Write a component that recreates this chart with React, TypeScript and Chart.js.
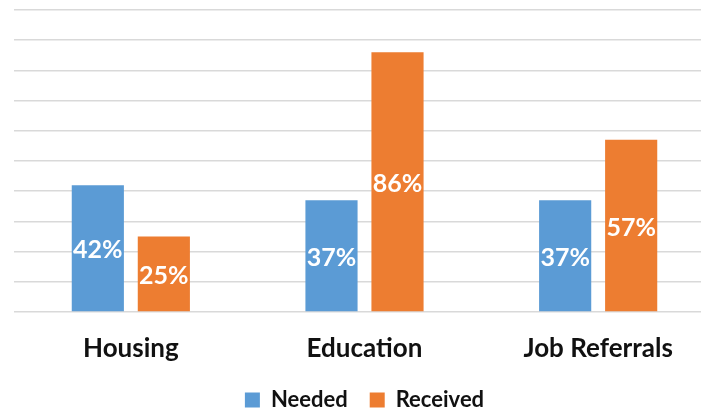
import React, { useEffect, useRef } from "react";
import { Chart, registerables } from "chart.js";

Chart.register(...registerables);

const categories = ["Housing", "Education", "Job Referrals"];
const seriesNames = ["Needed", "Received"];
const neededValues = [42, 37, 37];
const receivedValues = [25, 86, 57];
const yTicks = [0, 10, 20, 30, 40, 50, 60, 70, 80, 90, 100];

const FONT = "Lato, 'Open Sans', sans-serif";

const barLabelPlugin = {
  id: "barLabels",
  afterDatasetsDraw(chart: any) {
    const ctx = chart.ctx;
    ctx.save();
    ctx.fillStyle = "#ffffff";
    ctx.font = `bold 25px ${FONT}`;
    ctx.textAlign = "center";
    ctx.textBaseline = "middle";
    chart.data.datasets.forEach((ds: any, di: number) => {
      const meta = chart.getDatasetMeta(di);
      meta.data.forEach((el: any, i: number) => {
        const { x, y, base } = el.getProps(["x", "y", "base"], true);
        ctx.fillText(`${ds.data[i]}%`, x, (y + base) / 2 + 2);
      });
    });
    ctx.restore();
  },
};

export default function App() {
  const ref = useRef<HTMLCanvasElement>(null);
  useEffect(() => {
    document.body.style.overflow = "hidden";
    const chart = new Chart(ref.current!, {
      type: "bar",
      data: {
        labels: categories,
        datasets: [
          {
            label: seriesNames[0],
            data: neededValues,
            backgroundColor: "#5B9BD5",
            categoryPercentage: 0.565,
            barPercentage: 0.79,
          },
          {
            label: seriesNames[1],
            data: receivedValues,
            backgroundColor: "#ED7D31",
            categoryPercentage: 0.565,
            barPercentage: 0.79,
          },
        ],
      },
      options: {
        animation: false,
        responsive: true,
        maintainAspectRatio: false,
        layout: { padding: { left: 14, right: 0, top: 10, bottom: 0 } },
        plugins: {
          tooltip: { enabled: false },
          legend: {
            position: "bottom",
            labels: {
              font: { family: FONT, size: 22, weight: "bold" },
              color: "#111",
              boxWidth: 15,
              boxHeight: 15,
              padding: 22,
            },
          },
        },
        scales: {
          x: {
            grid: { display: false, drawTicks: false },
            border: { display: false },
            ticks: {
              font: { family: FONT, size: 26, weight: "bold" },
              color: "#111",
              padding: 21,
            },
            afterFit: (s: any) => {
              s.height = 55;
            },
          },
          y: {
            min: 0,
            max: 100,
            afterBuildTicks: (axis: any) => {
              axis.ticks = yTicks.map((v) => ({ value: v }));
            },
            ticks: { display: false },
            grid: { color: "#d9d9d9", lineWidth: 1.5, drawTicks: false },
            border: { display: false },
          },
        },
      },
      plugins: [barLabelPlugin],
    });
    return () => chart.destroy();
  }, []);
  return (
    <div style={{ position: "fixed", left: 0, top: 0, width: 715, height: 421, background: "#fff" }}>
      <canvas ref={ref} />
    </div>
  );
}
